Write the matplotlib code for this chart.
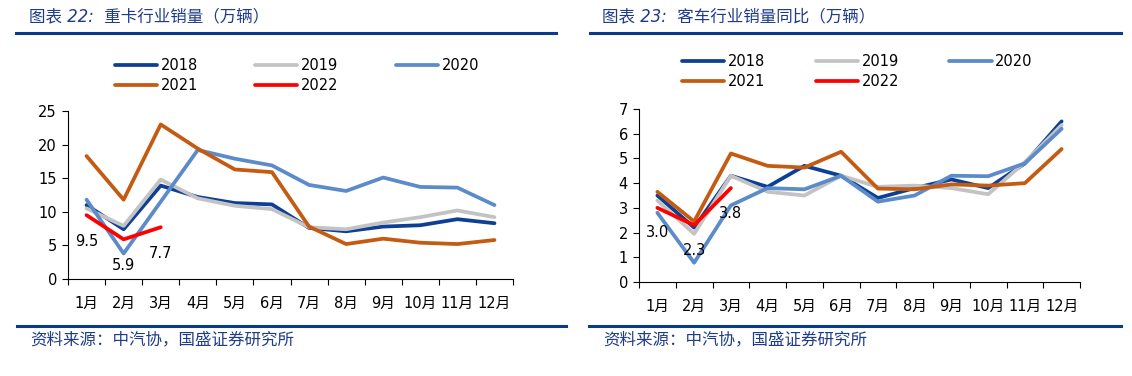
import matplotlib
matplotlib.use("Agg")
import matplotlib.pyplot as plt
from matplotlib.lines import Line2D

plt.rcParams['font.family'] = ['DejaVu Sans', 'Noto Sans CJK SC']

months = ['1月', '2月', '3月', '4月', '5月', '6月', '7月', '8月', '9月', '10月', '11月', '12月']
years = ['2018', '2019', '2020', '2021', '2022']
colors = ['#0D3F94', '#C3C3C3', '#5B8BC8', '#C55A11', '#FF0000']

# 重卡行业销量（万辆）
truck_2018 = [11.0, 7.4, 13.9, 12.2, 11.3, 11.1, 7.6, 7.1, 7.8, 8.0, 8.9, 8.3]
truck_2019 = [10.5, 7.9, 14.8, 12.0, 10.9, 10.4, 7.7, 7.4, 8.4, 9.2, 10.2, 9.2]
truck_2020 = [11.8, 3.8, 11.5, 19.2, 17.9, 16.9, 14.0, 13.1, 15.1, 13.7, 13.6, 11.0]
truck_2021 = [18.3, 11.8, 23.0, 19.4, 16.3, 15.9, 7.8, 5.2, 6.0, 5.4, 5.2, 5.8]
truck_2022 = [9.5, 5.9, 7.7]

# 客车行业销量（万辆）
bus_2018 = [3.5, 2.2, 4.3, 3.85, 4.7, 4.3, 3.4, 3.8, 4.15, 3.8, 4.8, 6.5]
bus_2019 = [3.3, 1.95, 4.3, 3.65, 3.5, 4.3, 3.85, 3.9, 3.8, 3.55, 4.85, 6.35]
bus_2020 = [2.8, 0.78, 3.1, 3.8, 3.75, 4.3, 3.25, 3.5, 4.3, 4.28, 4.8, 6.2]
bus_2021 = [3.65, 2.45, 5.2, 4.7, 4.63, 5.27, 3.78, 3.75, 3.95, 3.9, 4.0, 5.38]
bus_2022 = [3.0, 2.3, 3.8]

titles = ['图表 22:  重卡行业销量（万辆）', '图表 23:  客车行业销量同比（万辆）']
source = '资料来源：中汽协，国盛证券研究所'
navy = '#0B3C8C'
text_navy = '#1F3C88'

W, H = 1132, 376
fig = plt.figure(figsize=(W / 100, H / 100), dpi=100)

def fx(px):
    return px / W

def fy(py):
    return 1 - py / H

panels = [
    dict(data=[truck_2018, truck_2019, truck_2020, truck_2021, truck_2022],
         rect=[fx(68), fy(279), fx(513 - 68), (279 - 111) / H],
         ylim=(0, 25), yticks=[0, 5, 10, 15, 20, 25], fmt='{:.1f}',
         title_x=29, line=(16, 556), foot_line=(17, 566),
         legend_anchor=(fx(115), fy(58)), colsp=3.9, label_off=-19),
    dict(data=[bus_2018, bus_2019, bus_2020, bus_2021, bus_2022],
         rect=[fx(639), fy(282), fx(1080 - 639), (282 - 109) / H],
         ylim=(0, 7), yticks=list(range(8)), fmt='{:.1f}',
         title_x=602, line=(590, 1121), foot_line=(589, 1121),
         legend_anchor=(fx(682), fy(54)), colsp=3.45, label_off=-18),
]

for k, p in enumerate(panels):
    ax = fig.add_axes(p['rect'])
    x = list(range(len(months)))
    handles = []
    for yr, series, c in zip(years, p['data'], colors):
        h, = ax.plot(x[:len(series)], series, color=c, lw=2.7,
                     solid_capstyle='round', solid_joinstyle='round',
                     label=yr, zorder=3 if yr == '2022' else 2)
        handles.append(h)
    red = p['data'][4]
    for i, v in enumerate(red):
        ax.annotate(p['fmt'].format(v), xy=(i, v), xytext=(0, p['label_off']),
                    textcoords='offset points', ha='center', va='center',
                    fontsize=10.5, color='black', zorder=4)
    ax.set_xlim(-0.5, len(months) - 0.5)
    ax.set_ylim(*p['ylim'])
    ax.set_yticks(p['yticks'])
    ax.set_xticks(x)
    ax.set_xticklabels(months, fontsize=10.5)
    ax.set_xticks([i + 0.5 for i in range(-1, len(months))], minor=True)
    ax.tick_params(axis='x', which='major', length=0, pad=12)
    ax.tick_params(axis='x', which='minor', length=4, direction='out', width=0.8)
    ax.tick_params(axis='y', length=4, direction='out', width=0.8, labelsize=10.5, pad=4)
    for s in ['top', 'right']:
        ax.spines[s].set_visible(False)
    for s in ['left', 'bottom']:
        ax.spines[s].set_linewidth(0.8)
    ax.set_facecolor('none')

    order = [0, 3, 1, 4, 2]
    fig.legend([handles[i] for i in order], [years[i] for i in order],
               ncol=3, loc='upper left', bbox_to_anchor=p['legend_anchor'],
               frameon=False, fontsize=10.5, handlelength=2.9,
               handletextpad=0.25, columnspacing=p['colsp'], labelspacing=0.35,
               borderpad=0, borderaxespad=0)

    # title and rules
    fig.text(fx(p['title_x']), fy(16), titles[k], fontsize=11.9, color=text_navy,
             ha='left', va='center', style='italic',
             family=['DejaVu Sans', 'Noto Sans CJK SC'])
    fig.add_artist(Line2D([fx(p['line'][0]), fx(p['line'][1])], [fy(33), fy(33)],
                          color=navy, lw=2.2, transform=fig.transFigure))
    fig.add_artist(Line2D([fx(p['foot_line'][0]), fx(p['foot_line'][1])], [fy(326), fy(326)],
                          color=navy, lw=2.2, transform=fig.transFigure))
    fig.text(fx(p['title_x'] + 1), fy(339), source, fontsize=11.9, color=text_navy,
             ha='left', va='center', style='italic',
             family=['DejaVu Sans', 'Noto Sans CJK SC'])

fig.savefig('out.png', dpi=100)
